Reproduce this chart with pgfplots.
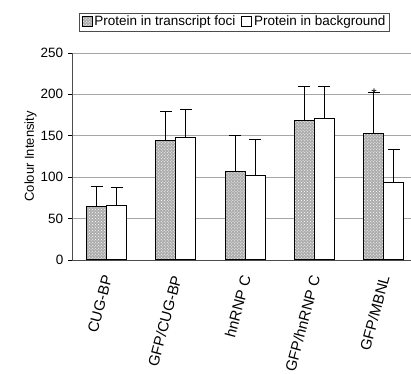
\documentclass[border=0pt]{standalone}
\usepackage{pgfplots}
\pgfplotsset{compat=1.18}
\usepackage{fontspec}
\setmainfont{Liberation Sans}
\usetikzlibrary{patterns}
\begin{document}
\fontsize{13.5bp}{16bp}\selectfont
\begin{tikzpicture}
\begin{axis}[
  at={(0,0)}, anchor=south west,
  scale only axis, width=339bp, height=207bp,
  ybar=0pt, bar width=20bp,
  xmin=-0.5, xmax=4.39,
  ymin=0, ymax=250,
  ytick={0,50,100,150,200,250},
  xtick={0,1,2,3,4},
  xticklabels={CUG-BP,GFP/CUG-BP,hnRNP C,GFP/hnRNP C,GFP/MBNL},
  ticklabel style={font=\fontsize{13.5bp}{16bp}\selectfont},
  x tick label style={font=\fontsize{15bp}{17bp}\selectfont, yshift=-12bp, xshift=1bp, rotate=75, anchor=east, inner sep=0pt},
  major x tick style={draw=none},
  ymajorgrids, grid style={gray!70, line width=0.6pt},
  axis x line*=bottom, axis y line*=left,
  axis line style={black!70},
  y tick style={black, line width=0.5pt},
  tick align=outside, major tick length=4bp,
  ylabel={Colour Intensity},
  ylabel style={font=\fontsize{13bp}{15bp}\selectfont, yshift=-5bp},
  /pgf/number format/assume math mode=true,
  legend style={at={(0.48,1.15)}, anchor=center, legend columns=2,
    draw=black!70, font=\fontsize{13.5bp}{16bp}\selectfont,
    inner xsep=2bp, inner ysep=1bp,
    /tikz/every even column/.append style={column sep=4bp}},
  legend image code/.code={\draw[#1, draw=black] (0bp,-4.5bp) rectangle (10bp,5.5bp);},
  error bars/y dir=plus, error bars/y explicit,
  error bars/error bar style={black, line width=0.8pt},
  error bars/error mark options={rotate=90, mark size=6bp, line width=0.8pt, black},
]
\addplot[draw=black, line width=0.8pt, fill=gray!65, postaction={pattern=crosshatch dots, pattern color=white}]
  coordinates {(0,64.5) +- (0,24) (1,144) +- (0,35) (2,107) +- (0,43) (3,168) +- (0,41) (4,153) +- (0,49)};
\addplot[draw=black, line width=0.8pt, fill=white]
  coordinates {(0,65.7) +- (0,21.5) (1,148) +- (0,34) (2,102) +- (0,43) (3,171) +- (0,39) (4,93.6) +- (0,39.5)};
\legend{Protein in transcript foci, Protein in background}
\node[font=\fontsize{14bp}{14bp}\selectfont] at (axis cs:3.86,201) {*};
\end{axis}
\path[use as bounding box] (-72bp,-114bp) rectangle (339bp,260bp);
\end{tikzpicture}
\end{document}
